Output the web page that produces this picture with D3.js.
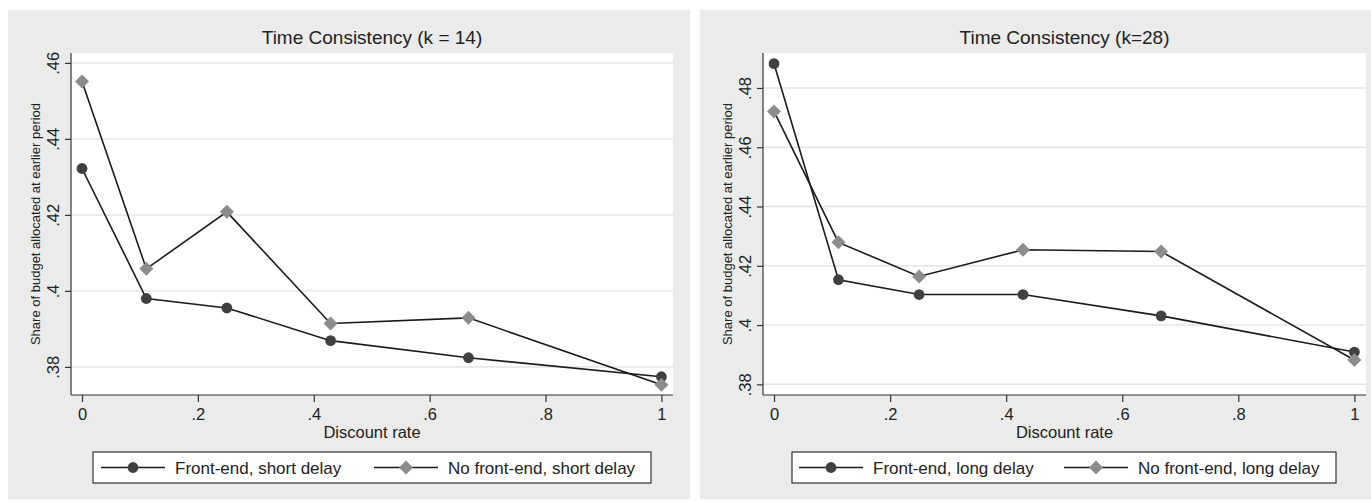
<!DOCTYPE html>
<html lang="en">
<head>
    <meta charset="UTF-8">
    <script src="https://d3js.org/d3.v7.min.js"></script>
    <title>Time Consistency</title>
    <style>
        body { margin: 0; background: white; }
        text { font-family: "Liberation Sans", Arial, sans-serif; fill: #222; }
    </style>
</head>
<body>
    <svg id="chart" width="1371" height="503"></svg>
    <script>
        // data
        const discountRates = [0, 0.111, 0.25, 0.429, 0.667, 1];

        const frontEndShort = [0.4322, 0.3980, 0.3955, 0.3869, 0.3824, 0.3774];
        const noFrontEndShort = [0.4551, 0.4058, 0.4208, 0.3914, 0.3929, 0.3753];

        const frontEndLong = [0.4882, 0.4153, 0.4103, 0.4103, 0.4031, 0.3909];
        const noFrontEndLong = [0.4721, 0.4279, 0.4164, 0.4254, 0.4248, 0.3882];

        const xTicks = [0, 0.2, 0.4, 0.6, 0.8, 1];
        const xTickLabels = ["0", ".2", ".4", ".6", ".8", "1"];
        const yTicksShort = [0.38, 0.40, 0.42, 0.44, 0.46];
        const yTickLabelsShort = [".38", ".4", ".42", ".44", ".46"];
        const yTicksLong = [0.38, 0.40, 0.42, 0.44, 0.46, 0.48];
        const yTickLabelsLong = [".38", ".4", ".42", ".44", ".46", ".48"];

        const svg = d3.select("#chart");

        const drawMarker = (sel, shape) => {
            if (shape === "circle") {
                sel.append("circle")
                    .attr("r", 5.4)
                    .attr("fill", "#404040");
            } else {
                sel.append("path")
                    .attr("d", d3.symbol().type(d3.symbolSquare).size(98)())
                    .attr("transform", "rotate(45)")
                    .attr("fill", "#8c8c8c");
            }
        };

        const drawPanel = (opts) => {
            const g = svg.append("g");

            // gray outer region
            g.append("rect")
                .attr("x", opts.bg[0]).attr("y", 10)
                .attr("width", opts.bg[1] - opts.bg[0]).attr("height", 489)
                .attr("fill", "#ebebeb");

            const x = d3.scaleLinear().domain([-0.019, 1.02]).range([opts.left, opts.right]);
            const y = d3.scaleLinear().domain(opts.yDomain).range([opts.bottom, opts.top]);

            // plot area
            g.append("rect")
                .attr("x", opts.left).attr("y", opts.top)
                .attr("width", opts.right - opts.left).attr("height", opts.bottom - opts.top)
                .attr("fill", "white");

            // gridlines
            g.selectAll(".grid")
                .data(opts.yTicks)
                .enter()
                .append("line")
                .attr("x1", opts.left).attr("x2", opts.right)
                .attr("y1", d => y(d)).attr("y2", d => y(d))
                .attr("stroke", "#e4e4e4")
                .attr("stroke-width", 1.5);

            // y axis
            const yAxis = g.append("g")
                .attr("transform", `translate(${opts.left},0)`)
                .call(d3.axisLeft(y).tickValues(opts.yTicks).tickSize(6).tickPadding(4)
                    .tickFormat((d, i) => opts.yLabels[i]));
            yAxis.select(".domain").attr("d", `M0,${opts.top}V${opts.bottom}`);
            yAxis.selectAll("text")
                .attr("transform", "rotate(-90)")
                .attr("x", 0).attr("y", -12)
                .attr("dy", 0)
                .attr("text-anchor", "middle")
                .style("font-size", "16.5px");

            // x axis
            const xAxis = g.append("g")
                .attr("transform", `translate(0,${opts.bottom})`)
                .call(d3.axisBottom(x).tickValues(xTicks).tickSize(7).tickPadding(6)
                    .tickFormat((d, i) => xTickLabels[i]));
            xAxis.select(".domain").attr("d", `M${opts.left},0H${opts.right}`);
            xAxis.selectAll("text").style("font-size", "16.5px");

            g.selectAll(".domain, .tick line").attr("stroke", "#333").attr("stroke-width", 1.2);

            const cx = (opts.left + opts.right) / 2;

            // titles
            g.append("text")
                .attr("x", cx).attr("y", 44)
                .attr("text-anchor", "middle")
                .style("font-size", "19px")
                .text(opts.title);

            g.append("text")
                .attr("x", cx).attr("y", 438)
                .attr("text-anchor", "middle")
                .style("font-size", "16.5px")
                .text("Discount rate");

            g.append("text")
                .attr("transform", `translate(${opts.left - 31},${(opts.top + opts.bottom) / 2}) rotate(-90)`)
                .attr("text-anchor", "middle")
                .style("font-size", "13px")
                .text("Share of budget allocated at earlier period");

            const line = d3.line()
                .x(d => x(d[0]))
                .y(d => y(d[1]));

            const series = [
                { values: opts.circleValues, shape: "circle" },
                { values: opts.diamondValues, shape: "diamond" }
            ];

            series.forEach(s => {
                const pts = discountRates.map((r, i) => [r, s.values[i]]);
                g.append("path")
                    .attr("d", line(pts))
                    .attr("fill", "none")
                    .attr("stroke", "#1a1a1a")
                    .attr("stroke-width", 1.6);
            });

            series.forEach(s => {
                const pts = discountRates.map((r, i) => [r, s.values[i]]);
                g.selectAll(null)
                    .data(pts)
                    .enter()
                    .append("g")
                    .attr("transform", d => `translate(${x(d[0])},${y(d[1])})`)
                    .each(function () { drawMarker(d3.select(this), s.shape); });
            });

            // legend
            const lg = g.append("g");
            lg.append("rect")
                .attr("x", opts.legend[0]).attr("y", 452)
                .attr("width", opts.legend[1] - opts.legend[0]).attr("height", 31)
                .attr("fill", "white")
                .attr("stroke", "#333")
                .attr("stroke-width", 1.2);

            const ly = 467.5;
            opts.legendItems.forEach(item => {
                lg.append("line")
                    .attr("x1", item.x).attr("x2", item.x + 64)
                    .attr("y1", ly).attr("y2", ly)
                    .attr("stroke", "#1a1a1a").attr("stroke-width", 1.6);
                const m = lg.append("g").attr("transform", `translate(${item.x + 32},${ly})`);
                drawMarker(m, item.shape);
                lg.append("text")
                    .attr("x", item.x + 74).attr("y", ly + 6.5)
                    .style("font-size", "17px")
                    .text(item.label);
            });
        };

        drawPanel({
            bg: [8, 690],
            left: 71, right: 673, top: 53, bottom: 395,
            yDomain: [0.3726, 0.4626],
            yTicks: yTicksShort, yLabels: yTickLabelsShort,
            title: "Time Consistency (k = 14)",
            circleValues: frontEndShort, diamondValues: noFrontEndShort,
            legend: [93, 651],
            legendItems: [
                { x: 101, shape: "circle", label: "Front-end, short delay" },
                { x: 374, shape: "diamond", label: "No front-end, short delay" }
            ]
        });

        drawPanel({
            bg: [700, 1371],
            left: 763, right: 1366, top: 53, bottom: 395,
            yDomain: [0.3764, 0.4918],
            yTicks: yTicksLong, yLabels: yTickLabelsLong,
            title: "Time Consistency (k=28)",
            circleValues: frontEndLong, diamondValues: noFrontEndLong,
            legend: [792, 1336],
            legendItems: [
                { x: 799, shape: "circle", label: "Front-end, long delay" },
                { x: 1064, shape: "diamond", label: "No front-end, long delay" }
            ]
        });
    </script>
</body>
</html>
